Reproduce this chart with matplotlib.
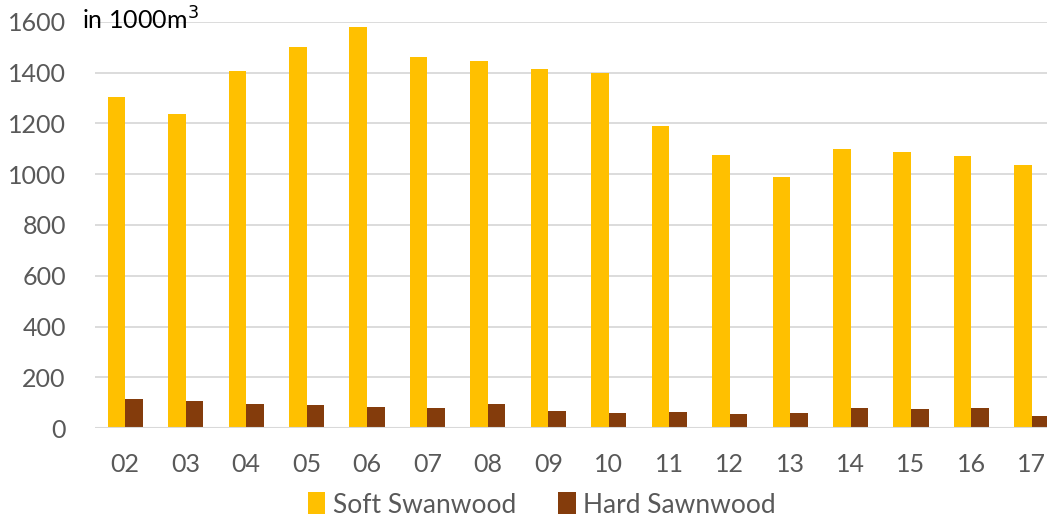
import matplotlib
matplotlib.use("Agg")
import matplotlib.pyplot as plt
import numpy as np

years = ["02", "03", "04", "05", "06", "07", "08", "09", "10", "11", "12", "13", "14", "15", "16", "17"]
soft = [1305, 1238, 1407, 1501, 1580, 1462, 1446, 1415, 1399, 1191, 1077, 990, 1100, 1089, 1073, 1038]
hard = [114, 105, 94, 89, 84, 79, 93, 68, 59, 63, 55, 59, 77, 75, 79, 47]
yticks = [0, 200, 400, 600, 800, 1000, 1200, 1400, 1600]

plt.rcParams['font.family'] = ['Lato', 'DejaVu Sans']

W, H = 1047, 518
fig = plt.figure(figsize=(W/100, H/100), dpi=100)
ax = fig.add_axes([95/W, (H-428)/H, (1047-95)/W, 406/H])

x = np.arange(len(years))
bw = 0.29
ax.bar(x - bw/2, soft, width=bw, color="#FFC000", label="Soft Swanwood", zorder=3)
ax.bar(x + bw/2, hard, width=bw, color="#843C0C", label="Hard Sawnwood", zorder=3)

ax.set_xlim(-0.5, 15.25)
ax.set_ylim(0, 1600)
ax.set_yticks(yticks)
ax.set_xticks(x)
ax.set_xticklabels(years)
ax.yaxis.grid(True, color="#D9D9D9", linewidth=1.3, zorder=0)
for s in ["top", "right", "left", "bottom"]:
    ax.spines[s].set_visible(False)
ax.axhline(0, color="#D9D9D9", linewidth=1.5, zorder=4)
ax.tick_params(axis="both", length=0, labelsize=18, labelcolor="#595959")
ax.tick_params(axis="x", pad=18)
ax.tick_params(axis="y", pad=21)

fig.text(82/W, 1 - 20/H, "in 1000m$^3$", fontsize=18, color="black", va="center", ha="left")

leg = fig.legend(loc="center", bbox_to_anchor=(542/W, 1 - 505/H), ncol=2, frameon=False,
                 fontsize=19, labelcolor="#595959", handlelength=0.65, handleheight=0.9,
                 handletextpad=0.3, columnspacing=1.6)

fig.savefig("out.png", dpi=100)
